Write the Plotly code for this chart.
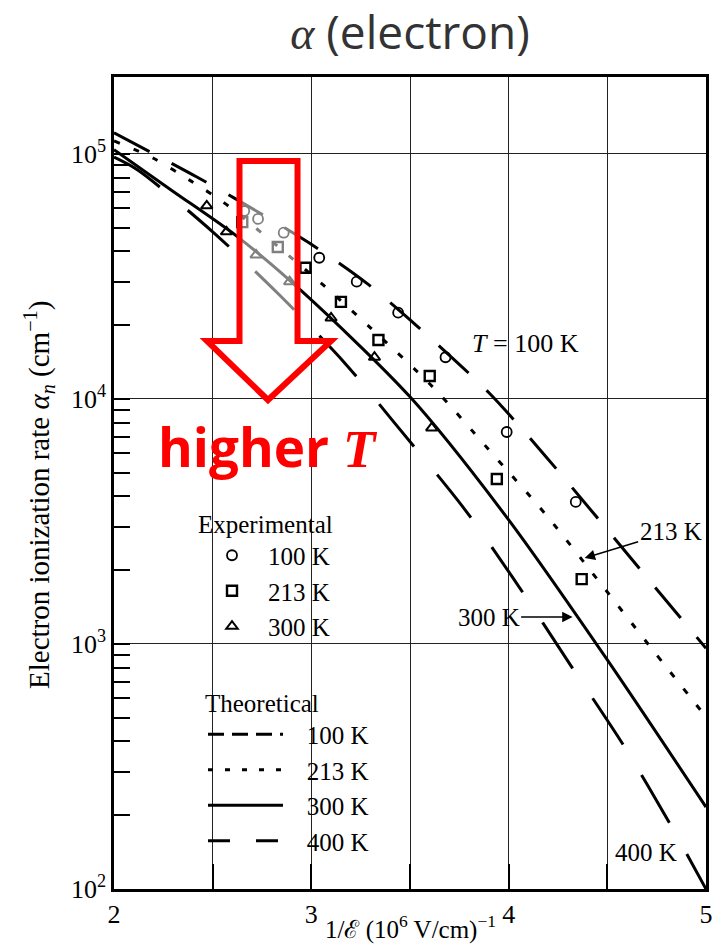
import plotly.graph_objects as go

# Theoretical ionization-rate curves: x = 1/E in (10^6 V/cm)^-1, alpha_n in cm^-1
x_100 = [2.00, 2.42, 2.61, 2.99, 3.28, 3.54, 3.90, 4.19, 4.70, 5.00]
a_100 = [1.22e5, 8.05e4, 6.6e4, 4.33e4, 2.97e4, 1.97e4, 1.06e4, 5.8e3, 1.87e3, 960]
x_213 = [2.00, 2.20, 2.385, 2.56, 3.06, 3.30, 3.615, 3.90, 4.19, 4.46, 4.73, 5.00]
a_213 = [1.13e5, 9.6e4, 7.8e4, 6.3e4, 2.92e4, 1.95e4, 1.12e4, 6.2e3, 3.36e3, 1.79e3, 946, 504]
x_300 = [2.00, 2.30, 2.62, 2.95, 3.50, 4.00, 4.50, 5.00]
a_300 = [1.04e5, 7.03e4, 4.63e4, 2.76e4, 1.02e4, 3.21e3, 861, 216]
x_400 = [2.00, 2.12, 2.50, 2.84, 3.17, 3.41, 3.78, 4.02, 4.32, 4.59, 4.83, 5.00]
a_400 = [9.7e4, 8.6e4, 4.81e4, 2.65e4, 1.40e4, 8.2e3, 3.52e3, 1.87e3, 805, 377, 177, 100]

# Experimental points
xe_100 = [2.66, 2.73, 2.86, 3.04, 3.23, 3.44, 3.68, 3.99, 4.34]
ae_100 = [5.85e4, 5.43e4, 4.77e4, 3.77e4, 3.01e4, 2.25e4, 1.48e4, 7.33e3, 3.80e3]
xe_213 = [2.65, 2.83, 2.97, 3.15, 3.34, 3.60, 3.94, 4.37]
ae_213 = [5.27e4, 4.17e4, 3.43e4, 2.49e4, 1.74e4, 1.24e4, 4.71e3, 1.84e3]
xe_300 = [2.47, 2.57, 2.72, 2.89, 3.10, 3.32, 3.61]
ae_300 = [6.14e4, 4.81e4, 3.87e4, 3.01e4, 2.14e4, 1.48e4, 7.62e3]

temps = ["100 K", "213 K", "300 K", "400 K"]
x_ticks = [2, 2.5, 3, 3.5, 4, 4.5, 5]
x_ticktext = ["2", "", "3", "", "4", "", "5"]
y_ticks = [1e2, 1e3, 1e4, 1e5]
y_ticktext = ["10<sup>2</sup>", "10<sup>3</sup>", "10<sup>4</sup>", "10<sup>5</sup>"]
y_minor = [k * 10 ** e for e in (2, 3, 4) for k in range(2, 10)]

SERIF = "Liberation Serif"
INK = "black"
NBSP = "\u00a0"

fig = go.Figure()

curves = [(x_100, a_100, "40px,25px"), (x_213, a_213, "6px,15px"),
          (x_300, a_300, "solid"), (x_400, a_400, "55px,36px")]
for (xs, ys, dash), name in zip(curves, temps):
    fig.add_trace(go.Scatter(
        x=xs, y=ys, mode="lines", name=name, showlegend=False,
        line=dict(color=INK, width=3, dash=dash, shape="spline", smoothing=0.8),
    ))

points = [(xe_100, ae_100, "circle-open", 1.8), (xe_213, ae_213, "square-open", 2.4),
          (xe_300, ae_300, "triangle-up-open", 2.0)]
for (xs, ys, sym, lw), name in zip(points, temps):
    fig.add_trace(go.Scatter(
        x=xs, y=ys, mode="markers", name=name, legend="legend",
        marker=dict(symbol=sym, size=10, color=INK, line=dict(width=lw, color=INK)),
    ))

# legend keys for the theoretical curves
legend_dash = ["16px,8px", "5px,12px", "solid", "22px,26px"]
for name, dash in zip(temps, legend_dash):
    fig.add_trace(go.Scatter(
        x=[None], y=[None], mode="lines", name=NBSP * 3 + name, legend="legend2",
        line=dict(color=INK, width=3, dash=dash),
    ))

# plot-area pixel box -> paper coordinates helpers
L, R, T, B = 114, 706, 77, 889
def px(xp):
    return (xp - L) / (R - L)
def py(yp):
    return (B - yp) / (B - T)

arrow = [(239.5, 161), (297.5, 161), (297.5, 341), (331, 341), (268, 400),
         (207, 341), (239.5, 341)]
path = "M " + " L ".join(f"{px(a):.4f},{py(b):.4f}" for a, b in arrow) + " Z"

shapes = [
    # white panel behind the legends hides the grid there
    dict(type="rect", xref="paper", yref="paper", x0=px(177), x1=px(377),
         y0=py(862), y1=py(482), fillcolor="white", line=dict(width=0), layer="between"),
    dict(type="path", xref="paper", yref="paper", path=path,
         fillcolor="rgba(255,255,255,0.5)", line=dict(color="#ff0000", width=6), layer="above"),
]

annotations = [
    dict(x=4.085, y=4.225, xref="x", yref="y", text="<i>T</i> = 100 K", showarrow=False,
         font=dict(family=SERIF, size=26, color=INK)),
    dict(x=4.385, y=3.351, xref="x", yref="y", text="213 K", showarrow=True,
         ax=86, ay=-26, arrowhead=2, arrowsize=1.3, arrowwidth=1.6, arrowcolor=INK,
         font=dict(family=SERIF, size=25, color=INK)),
    dict(x=4.324, y=3.110, xref="x", yref="y", text="300 K", showarrow=True,
         ax=-84, ay=0, arrowhead=2, arrowsize=1.3, arrowwidth=1.6, arrowcolor=INK,
         font=dict(family=SERIF, size=25, color=INK)),
    dict(x=4.694, y=2.151, xref="x", yref="y", text="400 K", showarrow=False,
         font=dict(family=SERIF, size=25, color=INK)),
    dict(x=px(268), y=py(446), xref="paper", yref="paper", showarrow=False,
         xanchor="center", yanchor="middle",
         text="<b>higher </b><b><i><span style=\"font-family:'Liberation Serif'\">T</span></i></b>",
         font=dict(family="Open Sans", size=53, color="#ff0000")),
    # axis titles
    dict(x=px(39), y=py(495), xref="paper", yref="paper", showarrow=False,
         xanchor="center", yanchor="middle", textangle=-90,
         text="Electron ionization rate <i>α<sub>n</sub></i> (cm<sup>−1</sup>)",
         font=dict(family=SERIF, size=29, color=INK)),
    dict(x=px(410), y=py(927), xref="paper", yref="paper", showarrow=False,
         xanchor="center", yanchor="middle",
         text="1/ℰ (10<sup>6</sup> V/cm)<sup>−1</sup>",
         font=dict(family=SERIF, size=25, color=INK)),
]

axis_common = dict(showline=True, linewidth=2.5, linecolor=INK, mirror=True,
                   ticks="inside", tickcolor=INK, tickwidth=2, automargin=False,
                   showgrid=True, gridcolor="#222222", gridwidth=1.3, zeroline=False,
                   tickfont=dict(family=SERIF, size=26, color=INK))

fig.update_layout(
    width=718, height=946,
    margin=dict(l=L, r=718 - R, t=T, b=946 - B),
    paper_bgcolor="white", plot_bgcolor="white",
    title=dict(text="<span style=\"font-family:'Liberation Serif'\"><i>α</i></span> (electron)",
               x=0.5, xref="paper", xanchor="center", y=1 - 33 / 946, yref="container",
               yanchor="middle", font=dict(family="Open Sans", size=46, color="#333333")),
    xaxis=dict(range=[2, 5], tickvals=x_ticks, ticktext=x_ticktext, ticklen=25,
               **axis_common),
    yaxis=dict(type="log", range=[2, 5.314], tickvals=y_ticks, ticktext=y_ticktext, ticklen=16,
               minor=dict(tickvals=y_minor, ticks="inside", ticklen=16, tickwidth=2,
                          tickcolor=INK, showgrid=False),
               **axis_common),
    legend=dict(x=px(196), y=py(500), xanchor="left", yanchor="top", bgcolor="rgba(0,0,0,0)",
                title=dict(text="Experimental", font=dict(family=SERIF, size=25, color=INK)),
                font=dict(family=SERIF, size=25, color=INK), itemwidth=62, itemclick=False),
    legend2=dict(x=px(203), y=py(679), xanchor="left", yanchor="top", bgcolor="rgba(0,0,0,0)",
                 title=dict(text="Theoretical", font=dict(family=SERIF, size=25, color=INK)),
                 font=dict(family=SERIF, size=25, color=INK), itemwidth=75, itemclick=False),
    shapes=shapes,
    annotations=annotations,
)

fig.write_html("out.html")
